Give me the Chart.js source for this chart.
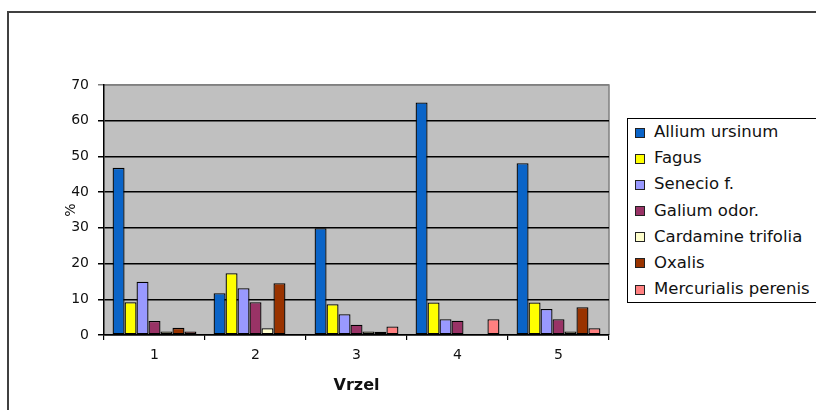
<!DOCTYPE html>
<html>
<head>
<meta charset="utf-8">
<script src="https://cdn.jsdelivr.net/npm/chart.js@4.4.1/dist/chart.umd.min.js"></script>
<style>
  html, body { margin: 0; padding: 0; background: #fff; width: 816px; height: 410px; overflow: hidden; }
  #frame { position: absolute; left: 7px; top: 11px; width: 1000px; height: 1000px; border: 2px solid #404040; }
  #c { position: absolute; left: 0; top: 0; }
  #legend { position: absolute; left: 627px; top: 118px; width: 220px; background: #fff; border: 1px solid #000;
            font-family: 'DejaVu Sans', sans-serif; font-size: 16.5px; color: #111; }
  .item { height: 26.2px; line-height: 26.2px; white-space: nowrap; position: relative; padding-left: 26px; }
  .sw { position: absolute; left: 7px; top: 8.5px; width: 8px; height: 8px; border: 1px solid #222; }
</style>
</head>
<body>
<div id="frame"></div>
<canvas id="c" width="816" height="410"></canvas>
<div id="legend"></div>
<script>
// ---- data ----
const categories = ['1', '2', '3', '4', '5'];
const seriesNames = ['Allium ursinum', 'Fagus', 'Senecio f.', 'Galium odor.', 'Cardamine trifolia', 'Oxalis', 'Mercurialis perenis'];
const allium      = [46.8, 11.7, 29.9, 65.1, 48.1];
const fagus       = [9.2, 17.3, 8.6, 9.1, 9.1];
const senecio     = [14.9, 13.1, 5.8, 4.4, 7.3];
const galium      = [3.9, 9.2, 2.9, 4.0, 4.4];
const cardamine   = [1.0, 1.9, 1.0, null, 1.0];
const oxalis      = [2.0, 14.5, 0.9, null, 7.8];
const mercurialis = [1.0, null, 2.4, 4.4, 1.9];
const yTicksMax = 70;
const yTickStep = 10;
const xTitle = 'Vrzel';
const yTitle = '%';

const seriesValues = [allium, fagus, senecio, galium, cardamine, oxalis, mercurialis];
const seriesColors = ['#0A64C8', '#FFFF00', '#9999FF', '#993366', '#FFFFCC', '#993300', '#FF8080'];

Chart.defaults.font.family = "'DejaVu Sans', sans-serif";
Chart.defaults.color = '#111';

const plotBg = {
  id: 'plotBg',
  beforeDraw(chart) {
    const a = chart.chartArea, ctx = chart.ctx;
    ctx.save();
    ctx.fillStyle = '#C0C0C0';
    ctx.fillRect(a.left, a.top, a.right - a.left, a.bottom - a.top);
    ctx.strokeStyle = '#808080';
    ctx.lineWidth = 1.5;
    ctx.beginPath();
    ctx.moveTo(a.left, a.top);
    ctx.lineTo(a.right, a.top);
    ctx.lineTo(a.right, a.bottom);
    ctx.stroke();
    ctx.restore();
  }
};

const chart = new Chart(document.getElementById('c'), {
  type: 'bar',
  data: {
    labels: categories,
    datasets: seriesNames.map((n, i) => ({
      label: n,
      data: seriesValues[i],
      backgroundColor: seriesColors[i],
      borderColor: '#000',
      borderWidth: 1.3,
      borderSkipped: false,
      categoryPercentage: 0.83,
      barPercentage: 1.0
    }))
  },
  options: {
    responsive: false,
    animation: false,
    devicePixelRatio: 1,
    layout: { padding: { left: 60, top: 85, right: 207, bottom: 15 } },
    plugins: { legend: { display: false }, tooltip: { enabled: false } },
    scales: {
      x: {
        grid: { display: true, drawOnChartArea: false, drawTicks: true, tickLength: 5, color: '#000', lineWidth: 1.2, offset: true },
        border: { display: true, color: '#000', width: 1.5 },
        ticks: { font: { size: 14 }, color: '#111', padding: 7 },
        title: { display: true, text: xTitle, font: { size: 16, weight: 'bold' }, color: '#111', padding: { top: 0, bottom: 0 } },
        afterFit(s) { s.height = 60; }
      },
      y: {
        min: 0, max: yTicksMax,
        grid: {
          color: (c) => (c.tick && c.tick.value === yTicksMax ? '#808080' : '#000'),
          lineWidth: 1.5, drawTicks: true, tickLength: 6
        },
        border: { display: true, color: '#000', width: 1.5 },
        ticks: { stepSize: yTickStep, font: { size: 14 }, color: '#111', padding: 9 },
        title: { display: true, text: yTitle, font: { size: 14 }, color: '#111', padding: { top: 3, bottom: 0 } },
        afterFit(s) { s.width = 44; }
      }
    }
  },
  plugins: [plotBg]
});

// legend built from the chart's datasets
const lg = document.getElementById('legend');
chart.data.datasets.forEach(ds => {
  const it = document.createElement('div');
  it.className = 'item';
  const sw = document.createElement('span');
  sw.className = 'sw';
  sw.style.background = ds.backgroundColor;
  it.appendChild(sw);
  it.appendChild(document.createTextNode(ds.label));
  lg.appendChild(it);
});
</script>
</body>
</html>
